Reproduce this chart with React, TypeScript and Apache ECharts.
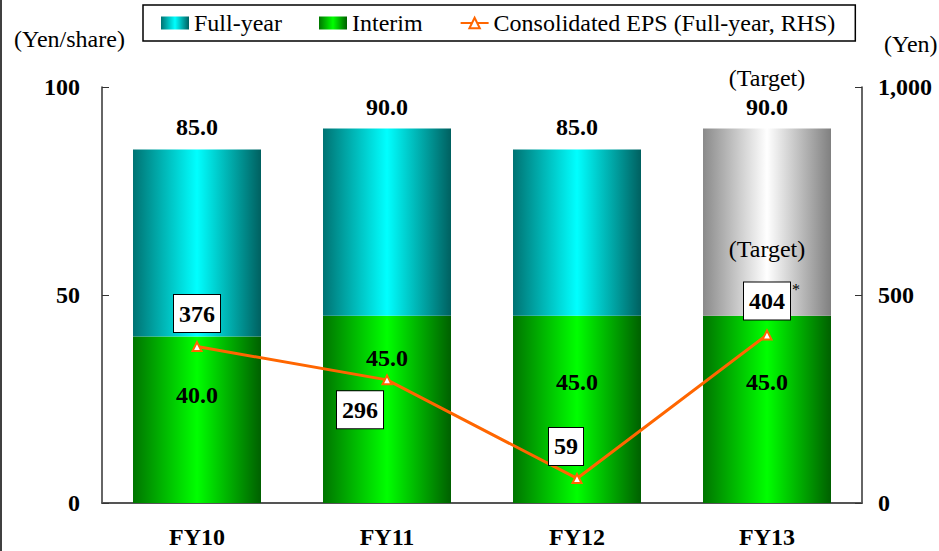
import React, { useEffect, useRef } from "react";
import * as echarts from "echarts";

const categories = ["FY10", "FY11", "FY12", "FY13"];
const interim = [40.0, 45.0, 45.0, 45.0];
const totals = [85.0, 90.0, 85.0, 90.0];
const eps = [376, 296, 59, 404];
const leftTicks = { min: 0, max: 100, interval: 50 };
const rightTicks = { min: 0, max: 1000, interval: 500 };

const FONT = "'Liberation Serif', 'Times New Roman', serif";
const FS = 24;

const grad = (edgeL: string, mid: string, edgeR: string) =>
  new echarts.graphic.LinearGradient(0, 0, 1, 0, [
    { offset: 0, color: edgeL },
    { offset: 0.5, color: mid },
    { offset: 1, color: edgeR },
  ]);

export default function App() {
  const ref = useRef<HTMLDivElement>(null);
  useEffect(() => {
    if (!ref.current) return;
    const chart = echarts.init(ref.current, null, { renderer: "svg" });
    const fullYear = totals.map((t, i) => +(t - interim[i]).toFixed(1));
    const interimLabelY = [58, 42, 66, 66];
    const epsOffsets = [
      [0, -33],
      [-27, 30],
      [-11, -32],
      [0, -34],
    ];
    const cyan = grad("#007373", "#00ffff", "#006060");
    const green = grad("#007500", "#00ff00", "#006000");
    const gray = grad("#8a8a8a", "#ffffff", "#808080");
    chart.setOption({
      animation: false,
      textStyle: { fontFamily: FONT },
      grid: { left: 102, right: 77, top: 87, bottom: 48 },
      legend: {
        left: 143,
        top: 5,
        padding: [6, 20, 6, 18],
        itemGap: 37,
        itemWidth: 28,
        itemHeight: 13,
        borderColor: "#000",
        borderWidth: 1.5,
        textStyle: { fontFamily: FONT, fontSize: FS, color: "#000" },
        data: [
          { name: "Full-year", icon: "rect" },
          { name: "Interim", icon: "rect" },
          { name: "Consolidated EPS (Full-year, RHS)" },
        ],
      },
      graphic: [
        {
          type: "text",
          left: 14,
          top: 27,
          style: { text: "(Yen/share)", font: `${FS}px ${FONT}`, fill: "#000" },
        },
        {
          type: "text",
          left: 884,
          top: 32,
          style: { text: "(Yen)", font: `${FS}px ${FONT}`, fill: "#000" },
        },
        {
          type: "line",
          shape: { x1: 1, y1: 0, x2: 1, y2: 551 },
          style: { stroke: "#000", lineWidth: 1.5 },
        },
      ],
      xAxis: {
        type: "category",
        data: categories,
        axisLine: { lineStyle: { color: "#555", width: 2 } },
        axisTick: { inside: true, length: 7, lineStyle: { color: "#333" } },
        axisLabel: {
          margin: 22,
          fontFamily: FONT,
          fontSize: FS,
          fontWeight: "bold",
          color: "#000",
        },
      },
      yAxis: [
        {
          type: "value",
          ...leftTicks,
          splitLine: { show: false },
          axisLine: { show: true, lineStyle: { color: "#333", width: 1.5 } },
          axisTick: { show: true, inside: true, length: 7, lineStyle: { color: "#333" } },
          axisLabel: {
            margin: 22,
            fontFamily: FONT,
            fontSize: FS,
            fontWeight: "bold",
            color: "#000",
          },
        },
        {
          type: "value",
          ...rightTicks,
          splitLine: { show: false },
          axisLine: { show: true, lineStyle: { color: "#333", width: 1.5 } },
          axisTick: { show: true, inside: true, length: 7, lineStyle: { color: "#333" } },
          axisLabel: {
            margin: 16,
            fontFamily: FONT,
            fontSize: FS,
            fontWeight: "bold",
            color: "#000",
            formatter: (v: number) => v.toLocaleString("en-US"),
          },
        },
      ],
      series: [
        {
          name: "Interim",
          type: "bar",
          stack: "div",
          barWidth: 128,
          itemStyle: { color: green },
          data: interim.map((v, i) => ({
            value: v,
            label: {
              show: true,
              position: ["50%", interimLabelY[i]],
              align: "center",
              verticalAlign: "middle",
              formatter: () => v.toFixed(1),
              fontFamily: FONT,
              fontSize: FS,
              fontWeight: "bold",
              color: "#000",
            },
          })),
        },
        {
          name: "Full-year",
          type: "bar",
          stack: "div",
          barWidth: 128,
          itemStyle: { color: cyan },
          data: fullYear.map((v, i) => ({
            value: v,
            itemStyle: i === 3 ? { color: gray } : undefined,
          })),
          label: {
            show: true,
            position: "top",
            distance: 9,
            fontFamily: FONT,
            fontSize: FS,
            color: "#000",
            formatter: (p: any) =>
              p.dataIndex === 3
                ? `{t|(Target)}\n{b|${totals[p.dataIndex].toFixed(1)}}`
                : `{b|${totals[p.dataIndex].toFixed(1)}}`,
            rich: {
              t: { fontFamily: FONT, fontSize: FS, color: "#000", lineHeight: 32 },
              b: { fontFamily: FONT, fontSize: FS, fontWeight: "bold", color: "#000", lineHeight: 26 },
            },
          },
          markPoint: {
            symbol: "circle",
            symbolSize: 0,
            data: [{ coord: ["FY13", 61], value: "(Target)" }],
            label: {
              show: true,
              position: "inside",
              formatter: "(Target)",
              fontFamily: FONT,
              fontSize: FS,
              color: "#000",
            },
          },
        },
        {
          name: "Consolidated EPS (Full-year, RHS)",
          type: "line",
          yAxisIndex: 1,
          symbol: "triangle",
          symbolSize: 9,
          lineStyle: { color: "#ff6600", width: 3 },
          itemStyle: { color: "#ffffff", borderColor: "#ff6600", borderWidth: 2 },
          data: eps.map((v, i) => ({
            value: v,
            label: {
              show: true,
              position: "inside",
              offset: epsOffsets[i],
              formatter: String(v),
              fontFamily: FONT,
              fontSize: FS,
              fontWeight: "bold",
              color: "#000",
              backgroundColor: "#fff",
              borderColor: "#000",
              borderWidth: 1,
              padding: [7, 5, 6, 5],
            },
          })),
          markPoint: {
            symbol: "circle",
            symbolSize: 0,
            data: [{ coord: [3, 514], value: "*" }],
            label: {
              show: true,
              position: "inside",
              offset: [29, 0],
              formatter: "*",
              fontFamily: FONT,
              fontSize: 16,
              color: "#000",
            },
          },
        },
      ],
    });
    return () => chart.dispose();
  }, []);
  return (
    <div
      ref={ref}
      style={{ position: "fixed", left: 0, top: 0, width: 939, height: 551, background: "#fff" }}
    />
  );
}
